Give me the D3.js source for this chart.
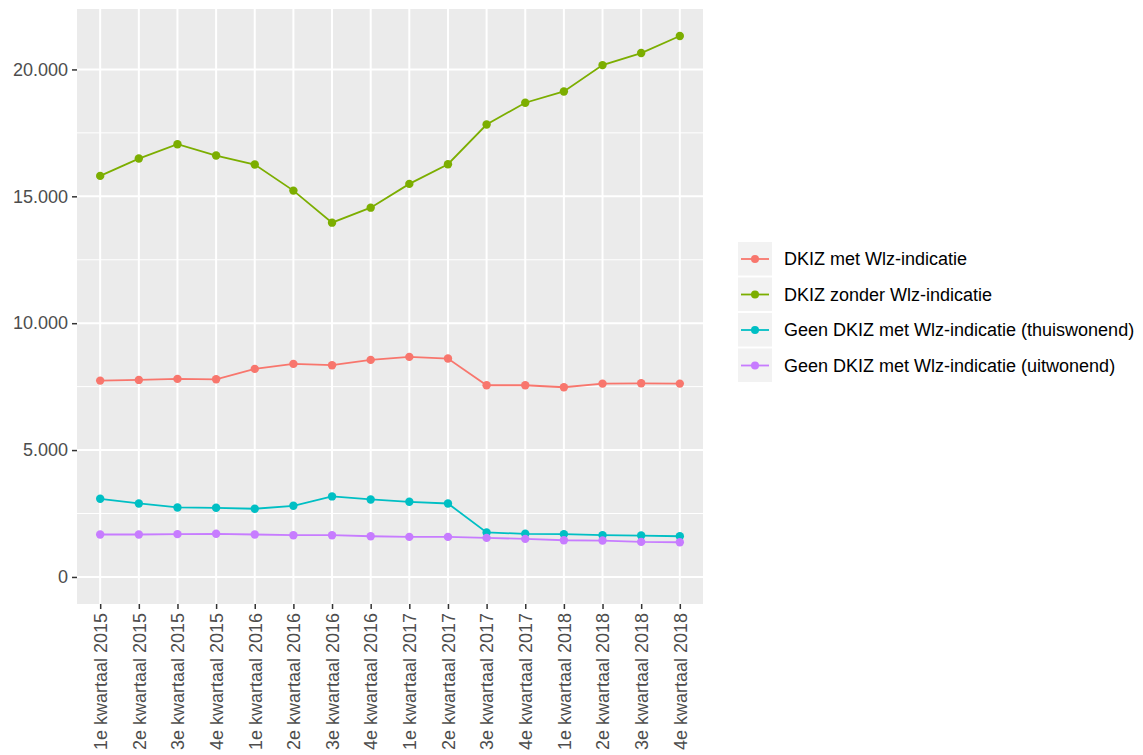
<!DOCTYPE html>
<html><head><meta charset="utf-8">
<script src="https://cdn.jsdelivr.net/npm/d3@7"></script>
<style>body{margin:0;background:#fff}svg{display:block;font-family:"Liberation Sans",Arial,sans-serif}</style>
</head><body>
<svg id="c" width="1143" height="755"></svg>
<script>
const categories = ["1e kwartaal 2015","2e kwartaal 2015","3e kwartaal 2015","4e kwartaal 2015",
  "1e kwartaal 2016","2e kwartaal 2016","3e kwartaal 2016","4e kwartaal 2016",
  "1e kwartaal 2017","2e kwartaal 2017","3e kwartaal 2017","4e kwartaal 2017",
  "1e kwartaal 2018","2e kwartaal 2018","3e kwartaal 2018","4e kwartaal 2018"];
const seriesNames = ["DKIZ met Wlz-indicatie","DKIZ zonder Wlz-indicatie",
  "Geen DKIZ met Wlz-indicatie (thuiswonend)","Geen DKIZ met Wlz-indicatie (uitwonend)"];
const dkizMet = [7737,7765,7805,7790,8199,8396,8345,8554,8672,8606,7555,7555,7476,7619,7632,7619];
const dkizZonder = [15805,16488,17053,16607,16251,15225,13962,14553,15490,16264,17830,18687,19133,20171,20645,21316];
const geenThuis = [3079,2897,2739,2726,2687,2805,3174,3055,2961,2895,1753,1700,1687,1645,1632,1605];
const geenUit = [1674,1674,1687,1700,1674,1645,1645,1605,1579,1579,1539,1500,1447,1434,1382,1368];
const yTicks = [0,5000,10000,15000,20000];
const yMinor = [2500,7500,12500,17500];
const colors = ["#F8766D","#7CAE00","#00BFC4","#C77CFF"];
const seriesValues = [dkizMet,dkizZonder,geenThuis,geenUit];

const svg = d3.select("#c");
const P = {l:77,t:9,r:703,b:604};
const x = d3.scalePoint().domain(categories).range([P.l,P.r]).padding(0.6);
const ymax = d3.max(seriesValues.flat());
const ex = ymax*0.05;
const y = d3.scaleLinear().domain([-ex, ymax+ex]).range([P.b,P.t]);
const fmt = v => v===0 ? "0" : d3.format(",")(v).replace(/,/g,".");
const FS = "18px";

svg.append("rect").attr("x",P.l).attr("y",P.t).attr("width",P.r-P.l).attr("height",P.b-P.t).attr("fill","#EBEBEB");
const g = svg.append("g");
g.selectAll(".mi").data(yMinor).join("line").attr("x1",P.l).attr("x2",P.r)
  .attr("y1",d=>y(d)).attr("y2",d=>y(d)).attr("stroke","#fff").attr("stroke-width",1);
g.selectAll(".ma").data(yTicks).join("line").attr("x1",P.l).attr("x2",P.r)
  .attr("y1",d=>y(d)).attr("y2",d=>y(d)).attr("stroke","#fff").attr("stroke-width",2);
g.selectAll(".vx").data(categories).join("line").attr("y1",P.t).attr("y2",P.b)
  .attr("x1",d=>x(d)).attr("x2",d=>x(d)).attr("stroke","#fff").attr("stroke-width",2);

// axes
const ya = svg.append("g").attr("transform",`translate(${P.l},0)`)
  .call(d3.axisLeft(y).tickValues(yTicks).tickFormat(fmt).tickSize(5).tickPadding(4));
ya.select(".domain").remove();
ya.selectAll(".tick line").attr("stroke","#333").attr("stroke-width",1.5);
ya.selectAll(".tick text").attr("fill","#4D4D4D").style("font-size",FS).attr("font-family","Liberation Sans, Arial, sans-serif");

const xa = svg.append("g").attr("transform",`translate(0,${P.b})`)
  .call(d3.axisBottom(x).tickSize(5).tickPadding(4));
xa.select(".domain").remove();
xa.selectAll(".tick line").attr("stroke","#333").attr("stroke-width",1.5);
xa.selectAll(".tick text").attr("fill","#4D4D4D").style("font-size",FS).attr("font-family","Liberation Sans, Arial, sans-serif")
  .attr("transform","rotate(-90)").attr("text-anchor","end").attr("x",-9).attr("y",0).attr("dy","0.35em");

// lines
const line = d3.line().x((d,i)=>x(categories[i])).y(d=>y(d));
seriesValues.forEach((vals,k)=>{
  svg.append("path").datum(vals).attr("d",line).attr("fill","none").attr("stroke",colors[k]).attr("stroke-width",1.8);
  svg.append("g").selectAll("circle").data(vals).join("circle")
    .attr("cx",(d,i)=>x(categories[i])).attr("cy",d=>y(d)).attr("r",4.2).attr("fill",colors[k]);
});

// legend
const lg = svg.append("g").attr("transform","translate(738,242)");
seriesNames.forEach((name,k)=>{
  const it = lg.append("g").attr("transform",`translate(0,${k*35.5})`);
  it.append("rect").attr("width",34).attr("height",33.5).attr("fill","#F2F2F2");
  it.append("line").attr("x1",3).attr("x2",31).attr("y1",17).attr("y2",17).attr("stroke",colors[k]).attr("stroke-width",1.8);
  it.append("circle").attr("cx",17).attr("cy",17).attr("r",4).attr("fill",colors[k]);
  it.append("text").attr("x",46).attr("y",17).attr("dy","0.35em").style("font-size",FS).attr("fill","#000").text(name);
});
</script>
</body></html>
